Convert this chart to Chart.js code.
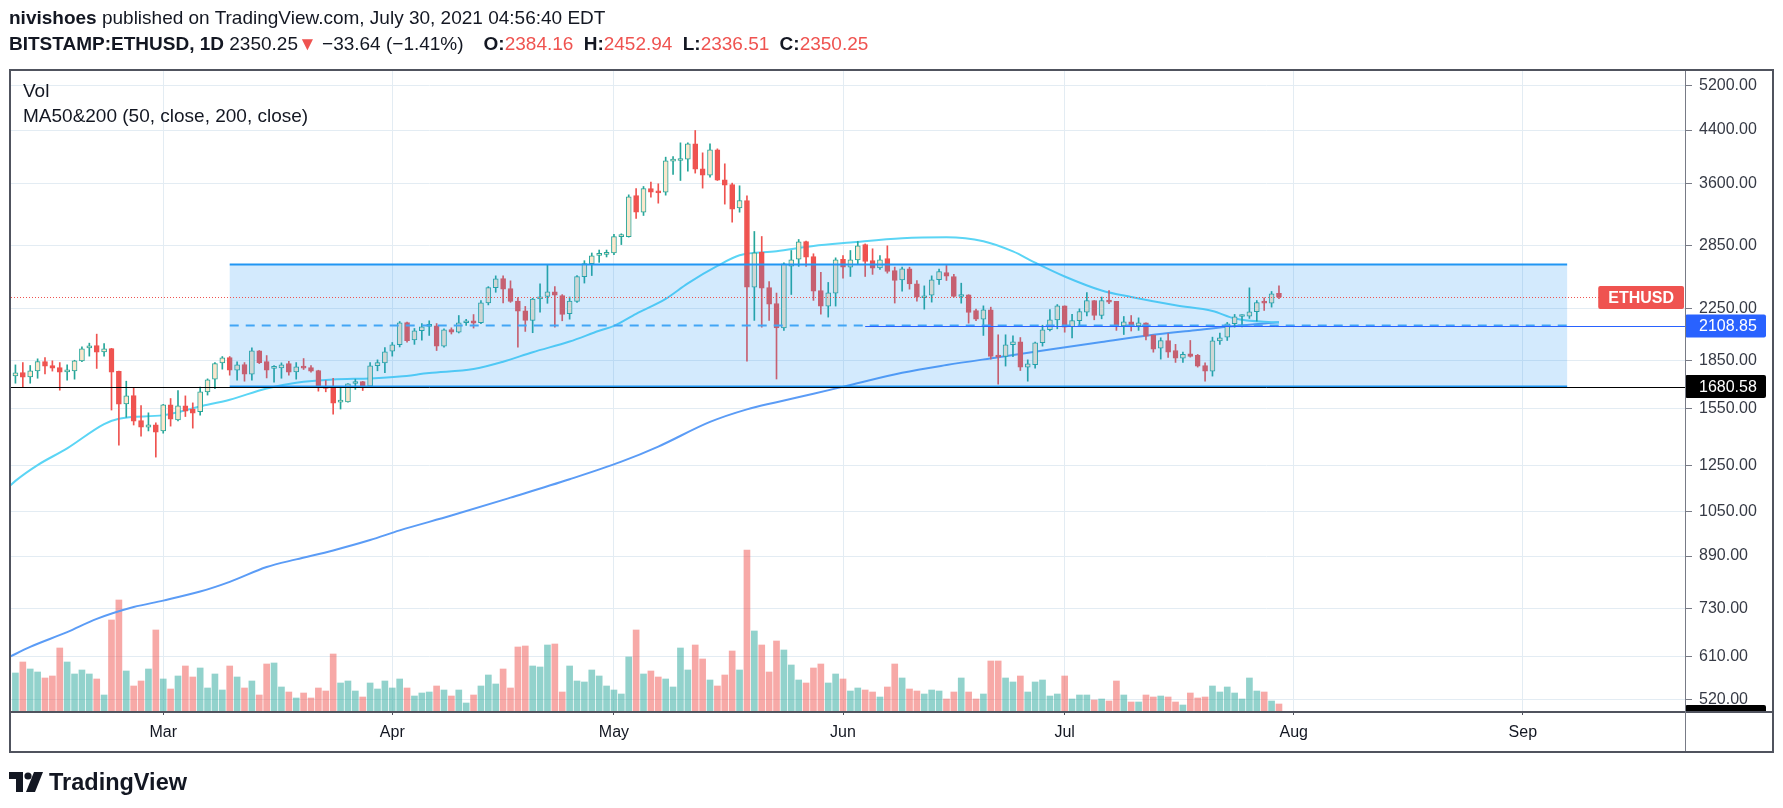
<!DOCTYPE html>
<html>
<head>
<meta charset="utf-8">
<script src="https://cdn.jsdelivr.net/npm/chart.js@4.4.1/dist/chart.umd.min.js"></script>
<style>
html,body{margin:0;padding:0;background:#fff;}
#wrap{position:relative;width:1783px;height:808px;overflow:hidden;background:#fff;}
#c{position:absolute;left:0;top:0;}
.hdr{position:absolute;left:9px;font-family:'Liberation Sans Narrow','Liberation Sans',Arial,sans-serif;font-size:19px;line-height:22px;color:#131722;white-space:nowrap;}
.hdr b{font-weight:bold;}
.red{color:#ef5350;}
.g1{margin-left:20px;}
.g2{margin-left:5px;}
.leg{position:absolute;left:23px;font-family:'Liberation Sans',Arial,sans-serif;font-size:19px;line-height:22px;color:#131722;white-space:nowrap;}
#logo{position:absolute;left:9px;top:769px;height:26px;display:flex;align-items:center;font-family:'Liberation Sans',Arial,sans-serif;font-weight:bold;font-size:23.5px;color:#131722;}
#logo svg{margin-right:6px;}
</style>
</head>
<body>
<div id="wrap">
<canvas id="c" width="1783" height="808"></canvas>
<div class="hdr" style="top:7px"><b>nivishoes</b> published on TradingView.com, July 30, 2021 04:56:40 EDT</div>
<div class="hdr" style="top:33px"><b>BITSTAMP:ETHUSD, 1D</b> 2350.25<span class="red">▼</span> −33.64 (−1.41%)<b class="g1">O:</b><span class="red">2384.16</span><b class="g2"> H:</b><span class="red">2452.94</span><b class="g2"> L:</b><span class="red">2336.51</span><b class="g2"> C:</b><span class="red">2350.25</span></div>
<div class="leg" style="top:80px">Vol</div>
<div class="leg" style="top:105px">MA50&amp;200 (50, close, 200, close)</div>
<div id="logo"><svg width="34" height="20" viewBox="0 0 34 20"><path d="M0 0H14V20H7V7H0Z" fill="#131722"/><circle cx="19" cy="4" r="3.6" fill="#131722"/><path d="M25 0H34L26 20H17Z" fill="#131722"/></svg>TradingView</div>
</div>
<script>
// ---------------- data ----------------
const startDate = '2021-02-09'; // first daily candle
const opens = [
1750,1772,1743,1783,1846,1819,1805,1776,1783,1851,
1943,1960,1914,1938,1779,1575,1625,1480,1443,1456,
1423,1569,1483,1563,1545,1529,1648,1728,1837,1874,
1787,1826,1761,1921,1846,1799,1803,1832,1776,1812,
1805,1785,1681,1671,1585,1587,1700,1712,1683,1817,
1837,1919,1966,2137,2003,2072,2106,2111,1956,2082,
2062,2135,2151,2135,2300,2436,2521,2427,2317,2233,
2154,2336,2357,2397,2365,2209,2314,2537,2665,2750,
2760,2775,2950,2948,3442,3233,3533,3494,3485,3915,
3925,3944,4178,3804,3715,4085,3650,3587,3286,3378,
2441,2780,2437,2295,2095,2641,2711,2896,2737,2410,
2273,2386,2708,2631,2704,2864,2697,2624,2717,2597,
2508,2614,2471,2345,2368,2509,2578,2540,2356,2372,
2236,2164,2242,1886,1882,1966,1988,1808,1824,1981,
2080,2159,2275,2105,2153,2222,2321,2194,2321,2313,
2111,2143,2111,2135,2039,1941,1998,1924,1870,1901,
1889,1819,1781,1995,2023,2127,2186,2189,2225,2304,
2298,2384.16];
const highs = [
1823,1839,1819,1865,1874,1851,1839,1823,1855,1950,
1978,2046,1975,1940,1781,1715,1673,1565,1523,1467,
1572,1607,1656,1623,1581,1677,1730,1839,1881,1881,
1844,1839,1943,1924,1888,1819,1837,1848,1839,1867,
1819,1787,1719,1734,1681,1700,1728,1714,1839,1858,
1945,1983,2145,2140,2090,2129,2151,2129,2087,2095,
2194,2162,2202,2320,2445,2546,2546,2499,2346,2270,
2340,2472,2654,2445,2373,2352,2549,2695,2774,2805,
2805,2975,2981,3450,3533,3560,3618,3596,3974,3984,
4193,4193,4392,4039,4178,4100,3876,3605,3569,3437,
3007,2951,2493,2387,2674,2800,2918,2900,2766,2579,
2484,2724,2748,2800,2896,2870,2818,2748,2850,2631,
2630,2630,2502,2452,2546,2611,2647,2560,2477,2372,
2247,2275,2264,2041,2041,2033,2020,1858,1985,2116,
2244,2286,2275,2203,2250,2392,2321,2351,2410,2313,
2186,2194,2175,2135,2039,2018,2050,1969,1912,1998,
1896,1838,2023,2054,2138,2203,2200,2434,2321,2345,
2401,2452.94];
const lows = [
1702,1677,1702,1734,1763,1781,1658,1721,1728,1845,
1884,1799,1884,1539,1349,1498,1455,1395,1423,1290,
1411,1449,1478,1502,1438,1510,1628,1667,1794,1754,
1721,1715,1721,1832,1736,1708,1734,1754,1728,1792,
1774,1652,1648,1515,1545,1585,1663,1656,1677,1783,
1770,1884,1950,1985,1969,2000,2036,1924,1948,2047,
2055,2114,2093,2127,2283,2394,2300,2305,1949,2067,
2057,2222,2297,2101,2151,2164,2305,2478,2549,2678,
2733,2757,2863,2944,3157,3193,3421,3344,3446,3724,
3641,3771,3743,3538,3687,3641,3332,3114,3233,1849,
2154,2100,2154,1729,2074,2374,2638,2638,2322,2206,
2181,2273,2525,2540,2664,2540,2560,2608,2572,2299,
2404,2422,2316,2247,2307,2465,2502,2351,2298,2132,
2153,2036,1863,1696,1815,1880,1785,1715,1800,1956,
2070,2087,2061,2018,2119,2190,2159,2167,2293,2075,
2043,2070,2075,2003,1912,1863,1875,1840,1840,1877,
1808,1715,1748,1969,1998,2100,2103,2170,2148,2236,
2264,2336.51];
const closes = [
1770,1741,1783,1846,1814,1801,1774,1781,1851,1936,
1958,1912,1936,1774,1573,1623,1476,1443,1456,1416,
1569,1487,1563,1533,1521,1648,1723,1832,1872,1787,
1823,1761,1921,1839,1787,1803,1823,1774,1810,1801,
1781,1677,1669,1579,1589,1698,1712,1683,1817,1839,
1914,1966,2135,1996,2072,2103,2111,1956,2079,2062,
2135,2143,2132,2300,2436,2518,2421,2314,2230,2154,
2334,2354,2397,2367,2203,2317,2540,2665,2745,2760,
2775,2950,2960,3425,3233,3533,3485,3476,3920,3930,
3944,4178,3799,3715,4085,3646,3578,3270,3378,2441,
2776,2431,2290,2095,2664,2704,2893,2731,2404,2273,
2389,2704,2631,2704,2850,2687,2621,2704,2588,2503,
2614,2471,2351,2355,2509,2588,2543,2356,2364,2219,
2164,2242,1882,1877,1966,1988,1808,1831,1981,2080,
2159,2275,2100,2153,2227,2321,2194,2321,2307,2111,
2143,2105,2135,2031,1934,1998,1912,1870,1896,1882,
1815,1781,1995,2018,2127,2184,2192,2225,2304,2298,
2380,2350.25];
// volume, thousand ETH
const volumes = [
38,49,42,39,33,35,63,49,37,41,37,32,16,91,111,40,25,30,42,81,
32,22,35,45,34,43,23,37,21,45,34,23,30,16,47,48,24,19,13,18,
13,23,20,57,28,30,20,14,28,22,30,23,32,23,15,18,19,25,21,15,
21,8,16,25,36,27,42,23,64,65,45,44,66,67,19,45,30,29,41,35,
25,21,17,54,81,37,40,34,32,24,63,41,66,52,31,25,36,60,41,161,
80,66,39,70,61,46,31,28,43,47,28,37,32,20,23,21,19,14,24,47,
33,22,20,17,21,20,12,19,33,19,12,17,50,50,33,29,35,19,29,31,
15,17,35,12,16,16,11,12,10,30,16,9,9,16,14,15,14,9,6,18,
13,14,25,19,24,18,12,33,20,19,10,7];
// moving averages
const ma50Dates = ['2021-02-08','2021-02-09','2021-02-12','2021-02-16','2021-02-21','2021-02-23','2021-03-01','2021-03-06','2021-03-10','2021-03-15','2021-03-19','2021-03-24','2021-03-29','2021-04-02','2021-04-06','2021-04-12','2021-04-16','2021-04-20','2021-04-25','2021-04-29','2021-05-01','2021-05-04','2021-05-08','2021-05-11','2021-05-15','2021-05-18','2021-05-23','2021-05-28','2021-06-02','2021-06-09','2021-06-15','2021-06-20','2021-06-24','2021-06-27','2021-07-01','2021-07-06','2021-07-10','2021-07-16','2021-07-21','2021-07-24','2021-07-29','2021-07-30'];
const ma50Values = [1150,1180,1252,1333,1460,1490,1510,1560,1600,1669,1705,1726,1733,1745,1768,1795,1845,1912,1990,2072,2110,2208,2335,2475,2642,2750,2792,2848,2885,2932,2943,2899,2790,2675,2540,2410,2352,2280,2232,2170,2140,2138];
const ma200Dates = ['2021-02-08','2021-02-11','2021-02-16','2021-02-20','2021-02-25','2021-03-01','2021-03-06','2021-03-10','2021-03-15','2021-03-19','2021-03-24','2021-03-29','2021-04-02','2021-04-09','2021-04-17','2021-04-25','2021-05-02','2021-05-07','2021-05-14','2021-05-19','2021-05-23','2021-05-28','2021-06-02','2021-06-09','2021-06-15','2021-06-22','2021-06-29','2021-07-06','2021-07-12','2021-07-19','2021-07-24','2021-07-30'];
const ma200Values = [608,633,669,703,735,753,779,808,854,879,909,945,980,1036,1108,1187,1268,1342,1472,1543,1585,1636,1691,1770,1822,1876,1931,1986,2033,2078,2109,2140];
const priceTicks = [520,610,730,890,1050,1250,1550,1850,2250,2850,3600,4400,5200];
const monthDates = ['2021-03-01','2021-04-01','2021-05-01','2021-06-01','2021-07-01','2021-08-01','2021-09-01'];
const monthLabels = ['Mar','Apr','May','Jun','Jul','Aug','Sep'];
// drawings
const rangeBox = {from:'2021-03-10', to:'2021-09-07', top:2657, bottom:1680.58};
const blueLine = {from:'2021-06-04', price:2108.85};
const blackLine = 1680.58;
const lastPrice = 2350.25;
const symbol = 'ETHUSD';

// ---------------- helpers ----------------
const DAY = 86400000;
const t0 = Date.parse(startDate + 'T00:00:00Z');
const dayIdx = d => (Date.parse(d + 'T00:00:00Z') - t0) / DAY;
const UP = '#26a69a', DOWN = '#ef5350', UPFILL = '#fbe7cc';
const isUp = i => closes[i] >= opens[i];

const wickData = opens.map((o, i) => ({x: i, y: [lows[i], highs[i]]}));
const bodyData = opens.map((o, i) => ({x: i, y: [o, closes[i]]}));
const volData = volumes.map((v, i) => ({x: i, y: v}));
const ma50Data = ma50Dates.map((d, i) => ({x: dayIdx(d), y: ma50Values[i]}));
const ma200Data = ma200Dates.map((d, i) => ({x: dayIdx(d), y: ma200Values[i]}));
const monthIdx = monthDates.map(dayIdx);

const FONT = "'Liberation Sans', Arial, sans-serif";

function roundRect(ctx, x, y, w, h, r) {
  ctx.beginPath();
  ctx.moveTo(x + r, y); ctx.lineTo(x + w - r, y); ctx.quadraticCurveTo(x + w, y, x + w, y + r);
  ctx.lineTo(x + w, y + h - r); ctx.quadraticCurveTo(x + w, y + h, x + w - r, y + h);
  ctx.lineTo(x + r, y + h); ctx.quadraticCurveTo(x, y + h, x, y + h - r);
  ctx.lineTo(x, y + r); ctx.quadraticCurveTo(x, y, x + r, y); ctx.closePath();
}

const overlay = {
  id: 'overlay',
  afterDatasetsDraw(chart) {
    const {ctx, chartArea: a, scales: {x, y}} = chart;
    ctx.save();
    ctx.beginPath(); ctx.rect(a.left, a.top, a.right - a.left, a.bottom - a.top); ctx.clip();
    // range rectangle
    const x1 = x.getPixelForValue(dayIdx(rangeBox.from)), x2 = x.getPixelForValue(dayIdx(rangeBox.to));
    const y1 = y.getPixelForValue(rangeBox.top), y2 = y.getPixelForValue(rangeBox.bottom);
    ctx.fillStyle = 'rgba(33,150,243,0.2)';
    ctx.fillRect(x1, y1, x2 - x1, y2 - y1);
    ctx.strokeStyle = '#2196f3'; ctx.lineWidth = 2;
    ctx.beginPath(); ctx.moveTo(x1, y1); ctx.lineTo(x2, y1); ctx.moveTo(x1, y2); ctx.lineTo(x2, y2); ctx.stroke();
    // midline (dashed)
    const ym = (y1 + y2) / 2;
    ctx.setLineDash([9, 7]); ctx.lineWidth = 2; ctx.strokeStyle = '#42a5f5';
    ctx.beginPath(); ctx.moveTo(x1, ym); ctx.lineTo(x2, ym); ctx.stroke();
    ctx.setLineDash([]);
    // black horizontal line
    const yb = Math.round(y.getPixelForValue(blackLine)) + 0.5;
    ctx.strokeStyle = '#000'; ctx.lineWidth = 1;
    ctx.beginPath(); ctx.moveTo(a.left, yb); ctx.lineTo(a.right, yb); ctx.stroke();
    // blue horizontal ray
    const yl = Math.round(y.getPixelForValue(blueLine.price)) + 0.5;
    ctx.strokeStyle = '#2962ff';
    ctx.beginPath(); ctx.moveTo(x.getPixelForValue(dayIdx(blueLine.from)), yl); ctx.lineTo(a.right, yl); ctx.stroke();
    // last price dotted line
    const yp = Math.round(y.getPixelForValue(lastPrice)) + 0.5;
    ctx.strokeStyle = '#ef5350'; ctx.setLineDash([1, 2]);
    ctx.beginPath(); ctx.moveTo(a.left, yp); ctx.lineTo(a.right, yp); ctx.stroke();
    ctx.setLineDash([]);
    ctx.restore();

    // price labels
    ctx.save();
    ctx.textBaseline = 'middle';
    ctx.font = 'bold 16px ' + FONT;
    const sw = ctx.measureText(symbol).width + 20;
    ctx.fillStyle = '#ef5350';
    roundRect(ctx, a.right - sw - 1, yp - 11.5, sw, 23, 2); ctx.fill();
    ctx.fillStyle = '#fff'; ctx.textAlign = 'center';
    ctx.fillText(symbol, a.right - 1 - sw / 2, yp + 1);
    ctx.textAlign = 'left'; ctx.font = '16px ' + FONT;
    const drawAxisLabel = (val, col) => {
      const py = y.getPixelForValue(val);
      ctx.fillStyle = col;
      roundRect(ctx, a.right, py - 11.5, 81, 23, 2); ctx.fill();
      ctx.fillStyle = '#fff';
      ctx.fillText(val.toFixed(2), a.right + 14, py + 1);
    };
    drawAxisLabel(blueLine.price, '#2962ff');
    drawAxisLabel(blackLine, '#000');
    ctx.restore();
  },
  afterDraw(chart) {
    const {ctx, chartArea: a} = chart;
    ctx.save();
    // partially hidden label at bottom of the price scale
    ctx.fillStyle = '#000';
    roundRect(ctx, a.right, a.bottom - 6, 81, 12, 2); ctx.fill();
    ctx.fillStyle = '#fff'; ctx.fillRect(a.right, a.bottom + 1, 90, 8);
    // axis separators
    ctx.strokeStyle = '#50535e'; ctx.lineWidth = 2;
    ctx.beginPath(); ctx.moveTo(10, a.bottom + 1); ctx.lineTo(1773, a.bottom + 1); ctx.stroke();
    ctx.strokeStyle = '#787b86'; ctx.lineWidth = 1;
    ctx.beginPath(); ctx.moveTo(a.right + 0.5, 70); ctx.lineTo(a.right + 0.5, 752); ctx.stroke();
    // outer frame
    ctx.strokeStyle = '#50535e'; ctx.lineWidth = 2;
    ctx.strokeRect(10, 70, 1763, 682);
    ctx.restore();
  }
};

Chart.defaults.font.family = FONT;
Chart.defaults.color = '#131722';

new Chart(document.getElementById('c'), {
  type: 'bar',
  data: {
    datasets: [
      {type: 'bar', label: 'Volume', data: volData, yAxisID: 'yv', xAxisID: 'x', order: 10,
       backgroundColor: volData.map((d, i) => isUp(i) ? 'rgba(38,166,154,0.5)' : 'rgba(239,83,80,0.5)'),
       barThickness: 6, grouped: false, borderWidth: 0},
      {type: 'line', label: 'MA200', data: ma200Data, yAxisID: 'y', order: 6, borderColor: '#5b9cf6',
       borderWidth: 2, pointRadius: 0, cubicInterpolationMode: 'monotone', fill: false},
      {type: 'line', label: 'MA50', data: ma50Data, yAxisID: 'y', order: 5, borderColor: '#5bd5f5',
       borderWidth: 2, pointRadius: 0, cubicInterpolationMode: 'monotone', fill: false},
      {type: 'bar', label: 'wick', data: wickData, yAxisID: 'y', order: 3,
       backgroundColor: wickData.map((d, i) => isUp(i) ? UP : DOWN),
       barThickness: 1, grouped: false, borderWidth: 0, borderSkipped: false},
      {type: 'bar', label: 'body', data: bodyData, yAxisID: 'y', order: 2,
       backgroundColor: bodyData.map((d, i) => isUp(i) ? UPFILL : DOWN),
       borderColor: bodyData.map((d, i) => isUp(i) ? UP : DOWN),
       borderWidth: 1, borderSkipped: false, barThickness: 5, minBarLength: 2, grouped: false}
    ]
  },
  options: {
    responsive: false, animation: false, events: [],
    layout: {padding: {left: 11, top: 71, right: 9, bottom: 56}},
    plugins: {legend: {display: false}, tooltip: {enabled: false}},
    scales: {
      x: {
        type: 'linear', position: 'bottom', min: -0.6, max: 225.95, offset: false, bounds: 'data',
        grid: {offset: false, color: '#e3ecf3', lineWidth: 1, drawTicks: true, tickLength: 4, tickColor: '#50535e'},
        border: {display: false},
        afterBuildTicks: s => { s.ticks = monthIdx.map(v => ({value: v})); },
        afterFit: s => { s.height = 41; },
        ticks: {autoSkip: false, maxRotation: 0, padding: 8, color: '#131722', font: {size: 16},
          callback: v => { const k = monthIdx.indexOf(v); return k >= 0 ? monthLabels[k] : ''; }}
      },
      y: {
        type: 'logarithmic', position: 'right', min: 497.7, max: 5490, bounds: 'data',
        grid: {color: '#e3ecf3', lineWidth: 1, drawTicks: true, tickLength: 7, tickColor: '#787b86'},
        border: {display: false},
        afterBuildTicks: s => { s.ticks = priceTicks.map(v => ({value: v})); },
        afterFit: s => { s.width = 89; },
        ticks: {autoSkip: false, padding: 7, color: '#363a45', font: {size: 16},
          callback: v => Number(v).toFixed(2)}
      },
      yv: {type: 'linear', display: false, min: 0, max: Math.max(...volumes) / 0.2516,
        grid: {display: false}}
    }
  },
  plugins: [overlay]
});
</script>
</body>
</html>
